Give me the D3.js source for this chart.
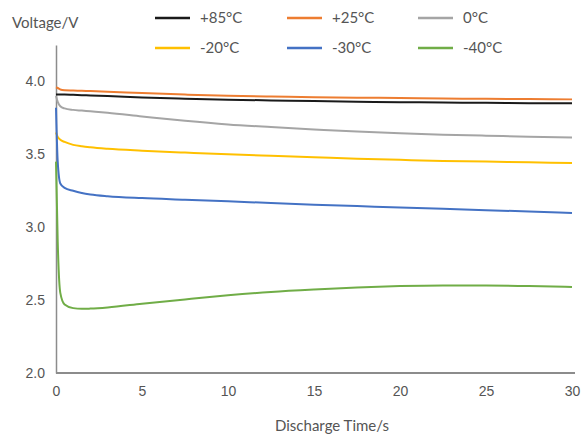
<!DOCTYPE html>
<html>
<head>
<meta charset="utf-8">
<script src="https://cdn.jsdelivr.net/npm/d3@7"></script>
<style>
  body { margin: 0; background: #fff; }
  svg { display: block; font-family: Lato, "Open Sans", sans-serif; }
</style>
</head>
<body>
<svg id="chart" width="582" height="443"></svg>
<script>
const time = [0, 0.1, 0.25, 0.5, 1, 1.5, 2, 3, 5, 7.5, 10, 12.5, 15, 17.5, 20, 22.5, 25, 27.5, 30];
const seriesNames = ["+85°C", "+25°C", "0°C", "-20°C", "-30°C", "-40°C"];
const seriesColors = ["#1a1a1a", "#ed7d31", "#a5a5a5", "#ffc000", "#4472c4", "#70ad47"];
const v85  = [3.91, 3.91, 3.91, 3.91, 3.908, 3.906, 3.904, 3.9, 3.89, 3.882, 3.875, 3.87, 3.865, 3.861, 3.858, 3.855, 3.853, 3.851, 3.85];
const v25  = [3.96, 3.955, 3.945, 3.94, 3.938, 3.936, 3.934, 3.93, 3.92, 3.91, 3.902, 3.897, 3.892, 3.889, 3.886, 3.883, 3.881, 3.879, 3.877];
const v0   = [3.90, 3.86, 3.83, 3.815, 3.805, 3.80, 3.795, 3.785, 3.76, 3.73, 3.705, 3.687, 3.671, 3.656, 3.644, 3.635, 3.628, 3.621, 3.616];
const vm20 = [3.65, 3.62, 3.60, 3.585, 3.565, 3.555, 3.548, 3.538, 3.525, 3.512, 3.50, 3.49, 3.48, 3.47, 3.462, 3.455, 3.45, 3.445, 3.44];
const vm30 = [3.82, 3.45, 3.30, 3.27, 3.25, 3.235, 3.225, 3.213, 3.20, 3.189, 3.178, 3.166, 3.155, 3.145, 3.135, 3.126, 3.117, 3.108, 3.098];
const vm40 = [3.45, 2.90, 2.55, 2.47, 2.445, 2.44, 2.442, 2.45, 2.475, 2.505, 2.533, 2.556, 2.573, 2.587, 2.596, 2.60, 2.60, 2.597, 2.59];
const seriesValues = [v85, v25, v0, vm20, vm30, vm40];
const xTicks = [0, 5, 10, 15, 20, 25, 30];
const yTicks = [2.0, 2.5, 3.0, 3.5, 4.0];

const svg = d3.select("#chart");
const x = d3.scaleLinear().domain([0, 30]).range([56, 572]);
const y = d3.scaleLinear().domain([2, 4.25]).range([373, 45]);

// axes
const xAxis = svg.append("g").attr("transform", `translate(0,${y(2)})`)
  .call(d3.axisBottom(x).tickValues(xTicks).tickSize(0).tickPadding(13).tickFormat(d3.format("d")));
xAxis.select(".domain").attr("stroke", "#8c8c8c").attr("stroke-width", 2).attr("d", `M${x(0)},0H${x(30) + 3}`);
xAxis.selectAll("text").attr("fill", "#555").style("font-size", "14px");

const yAxis = svg.append("g").attr("transform", `translate(${x(0)},0)`)
  .call(d3.axisLeft(y).tickValues(yTicks).tickSize(0).tickPadding(11).tickFormat(d3.format(".1f")));
yAxis.select(".domain").attr("stroke", "#8c8c8c").attr("stroke-width", 1.5);
yAxis.selectAll("text").attr("fill", "#555").style("font-size", "14px");

// lines
const line = d3.line().x((d, i) => x(time[i])).y(d => y(d)).curve(d3.curveMonotoneX);
seriesValues.forEach((vals, k) => {
  svg.append("path").datum(vals)
    .attr("fill", "none").attr("stroke", seriesColors[k]).attr("stroke-width", 2)
    .attr("d", line);
});

// axis titles
svg.append("text").attr("x", 12).attr("y", 28).attr("fill", "#555")
  .style("font-size", "15px").text("Voltage/V");
svg.append("text").attr("x", 332).attr("y", 431).attr("text-anchor", "middle").attr("fill", "#555")
  .style("font-size", "15px").text("Discharge Time/s");

// legend
const legX = [155, 287, 418];
const legY = [18, 48];
seriesNames.forEach((name, k) => {
  const lx = legX[k % 3], ly = legY[Math.floor(k / 3)];
  svg.append("line").attr("x1", lx).attr("x2", lx + 35).attr("y1", ly).attr("y2", ly)
    .attr("stroke", seriesColors[k]).attr("stroke-width", 2.5);
  svg.append("text").attr("x", lx + 45).attr("y", ly).attr("dy", "0.35em")
    .attr("fill", "#555").style("font-size", "15px").text(name);
});
</script>
</body>
</html>
